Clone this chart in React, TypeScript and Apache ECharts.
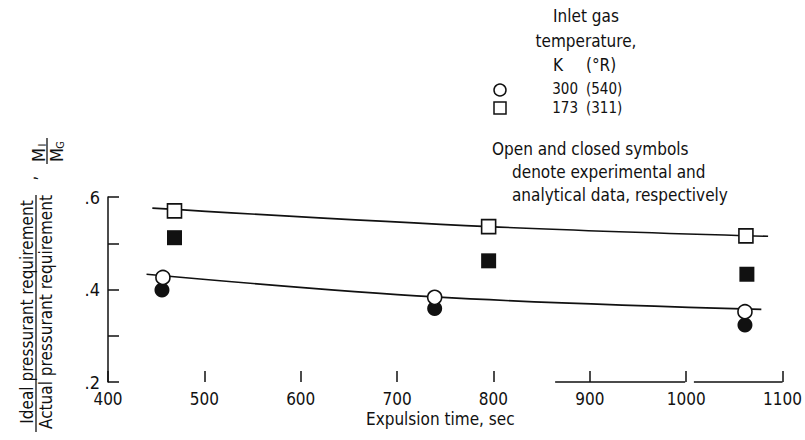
import React, { useEffect, useRef } from 'react';
import * as echarts from 'echarts';

// Experimental (open) and analytical (closed) data
const expTime300 = [457, 739, 1061];
const ratio300Exp = [0.426, 0.383, 0.352];
const anaTime300 = [456, 739, 1061];
const ratio300Ana = [0.399, 0.359, 0.323];
const expTime173 = [469, 795, 1062];
const ratio173Exp = [0.57, 0.536, 0.516];
const anaTime173 = [469, 795, 1063];
const ratio173Ana = [0.512, 0.462, 0.433];
// Faired curves
const fit300Time = [440, 739, 1078];
const fit300Ratio = [0.433, 0.384, 0.357];
const fit173Time = [446, 795, 1085];
const fit173Ratio = [0.576, 0.536, 0.515];
// Visible parts of the scanned x axis line
const axisSegStart = [864, 1008];
const axisSegEnd = [999, 1100];
const axisBase = 0.2;
// Tick labels
const yTickLabels: Record<number, string> = { 2: '.2', 4: '.4', 6: '.6' };
const legendHeader = ['Inlet gas', 'temperature,'];
const legendUnitsK = 'K';
const legendUnitsR = '(°R)';
const legendK = ['300', '173'];
const legendR = ['(540)', '(311)'];
const noteLines = ['Open and closed symbols', 'denote experimental and', 'analytical data, respectively'];

const FONT = "'DejaVu Sans Condensed', 'DejaVu Sans', sans-serif";
const INK = '#111';

const zip = (a: number[], b: number[]) => a.map((v, i) => [v, b[i]]);

export default function App() {
  const ref = useRef<HTMLDivElement>(null);
  useEffect(() => {
    const chart = echarts.init(ref.current!, null, { renderer: 'svg' });
    const axisData: any[] = [];
    axisSegStart.forEach((s, i) => {
      if (i > 0) axisData.push('-');
      axisData.push([s, axisBase], [axisSegEnd[i], axisBase]);
    });
    const txt = (x: number, y: number, text: string, align = 'left', size = 17) => ({
      type: 'text', x, y,
      style: { text, align, verticalAlign: 'middle', font: `${size}px ${FONT}`, fill: INK },
    });
    const option: any = {
      animation: false,
      backgroundColor: '#fff',
      grid: { left: 108, right: 19, top: 197, bottom: 58, containLabel: false },
      xAxis: {
        type: 'value', min: 400, max: 1100, interval: 100,
        axisLine: { show: false },
        axisTick: { show: true, inside: true, length: 11, lineStyle: { color: INK, width: 1.5 } },
        axisLabel: {
          color: INK, fontFamily: FONT, fontSize: 17, margin: 8, showMinLabel: true, showMaxLabel: true,
          formatter: (v: number) => String(Math.round(v)),
        },
        splitLine: { show: false },
        name: 'Expulsion time, sec', nameLocation: 'middle', nameGap: 28,
        nameTextStyle: { color: INK, fontFamily: FONT, fontSize: 17, padding: [0, 10, 0, 0] },
      },
      yAxis: {
        type: 'value', min: 0.2, max: 0.6, interval: 0.1,
        axisLine: { show: true, lineStyle: { color: INK, width: 1.5 } },
        axisTick: { show: true, inside: true, length: 11, lineStyle: { color: INK, width: 1.5 } },
        axisLabel: {
          color: INK, fontFamily: FONT, fontSize: 18, margin: 8,
          formatter: (v: number) => yTickLabels[Math.round(v * 10)] ?? '',
        },
        splitLine: { show: false },
      },
      series: [
        {
          type: 'line', data: axisData, showSymbol: false, symbol: 'none', clip: false,
          lineStyle: { color: INK, width: 1.5 }, silent: true, z: 1,
        },
        {
          type: 'line', data: zip(fit300Time, fit300Ratio), smooth: 0.35,
          showSymbol: false, symbol: 'none', lineStyle: { color: INK, width: 1.6 }, z: 2,
        },
        {
          type: 'line', data: zip(fit173Time, fit173Ratio), smooth: 0.35,
          showSymbol: false, symbol: 'none', lineStyle: { color: INK, width: 1.6 }, z: 2,
        },
        {
          type: 'scatter', data: zip(anaTime300, ratio300Ana), symbol: 'circle', symbolSize: 15,
          itemStyle: { color: INK, borderWidth: 0, opacity: 1 }, z: 3,
        },
        {
          type: 'scatter', data: zip(expTime300, ratio300Exp), symbol: 'circle', symbolSize: 14,
          itemStyle: { color: '#fff', borderColor: INK, borderWidth: 1.6, opacity: 1 }, z: 4,
        },
        {
          type: 'scatter', data: zip(anaTime173, ratio173Ana), symbol: 'rect', symbolSize: 15,
          itemStyle: { color: INK, borderWidth: 0, opacity: 1 }, z: 3,
        },
        {
          type: 'scatter', data: zip(expTime173, ratio173Exp), symbol: 'rect', symbolSize: 14,
          itemStyle: { color: '#fff', borderColor: INK, borderWidth: 1.6, opacity: 1 }, z: 4,
        },
      ],
      graphic: [
        txt(586, 16, legendHeader[0], 'center'),
        txt(586, 41, legendHeader[1], 'center'),
        txt(553, 65, legendUnitsK),
        txt(586, 65, legendUnitsR),
        { type: 'circle', shape: { cx: 500, cy: 90, r: 6 }, style: { fill: '#fff', stroke: INK, lineWidth: 1.5 } },
        { type: 'rect', shape: { x: 494, y: 102, width: 12, height: 12 }, style: { fill: '#fff', stroke: INK, lineWidth: 1.5 } },
        txt(578, 89, legendK[0], 'right', 15),
        txt(586, 89, legendR[0], 'left', 15),
        txt(578, 108, legendK[1], 'right', 15),
        txt(586, 108, legendR[1], 'left', 15),
        txt(492, 149, noteLines[0]),
        txt(512, 172, noteLines[1]),
        txt(512, 195, noteLines[2]),
        {
          type: 'group', x: 36, y: 312, rotation: Math.PI / 2,
          children: [
            txt(0, -9, 'Ideal pressurant requirement', 'center'),
            { type: 'line', shape: { x1: -120, y1: 0, x2: 117, y2: 0 }, style: { stroke: INK, lineWidth: 1.3 } },
            txt(0, 10, 'Actual pressurant requirement', 'center'),
            txt(134, -6, ',', 'center'),
            txt(157, 2, 'M', 'center', 18),
            txt(167, 6, 'I', 'center', 11),
            { type: 'line', shape: { x1: 148, y1: 11, x2: 174, y2: 11 }, style: { stroke: INK, lineWidth: 1.3 } },
            txt(157, 20, 'M', 'center', 18),
            txt(167, 24, 'G', 'center', 11),
          ],
        },
      ],
    };
    chart.setOption(option);
    return () => chart.dispose();
  }, []);
  return <div ref={ref} style={{ position: 'fixed', left: 0, top: 0, width: 805, height: 440 }} />;
}
